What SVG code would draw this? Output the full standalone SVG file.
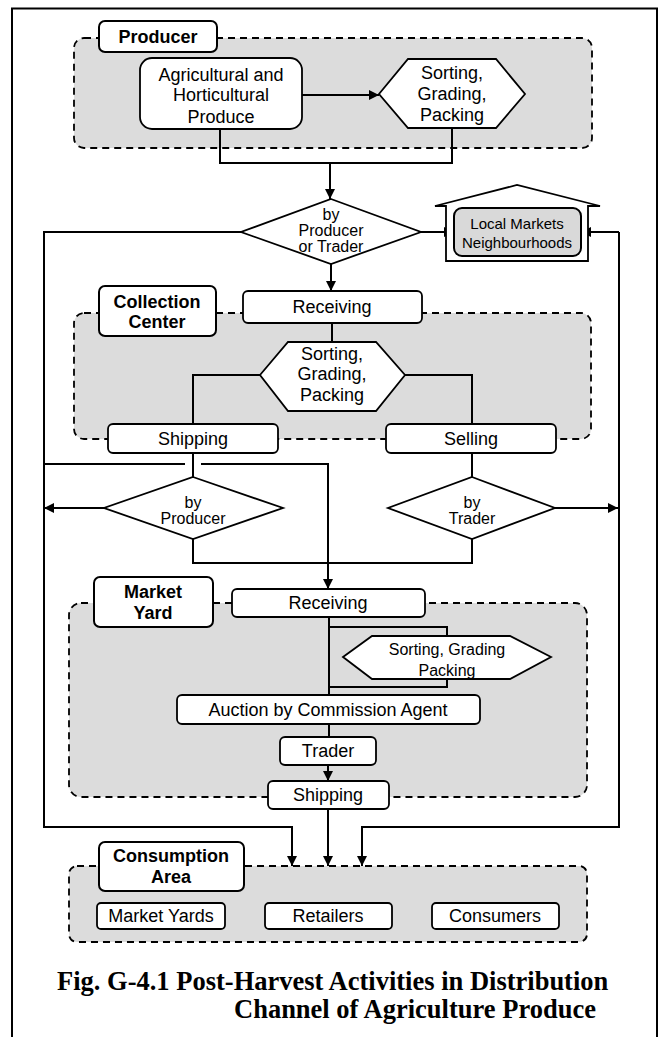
<svg xmlns="http://www.w3.org/2000/svg" width="664" height="1037" viewBox="0 0 664 1037">
  <style>
    .grp{fill:#dcdcdc;stroke:#000;stroke-width:1.8;stroke-dasharray:7 5}
    .lbl{fill:#fff;stroke:#000;stroke-width:2}
    .box{fill:#fff;stroke:#000;stroke-width:1.8}
    .w{fill:none;stroke:#000;stroke-width:2}
    .a{marker-end:url(#ah)}
    text{font-family:"Liberation Sans",Arial,sans-serif;font-size:18px;text-anchor:middle;dominant-baseline:central;fill:#000}
    .s{font-size:16px}
    .xs{font-size:15px}
    .b{font-weight:bold}
    .cap{font-family:"Liberation Serif","Times New Roman",serif;font-weight:bold;font-size:26.5px;text-anchor:start;dominant-baseline:auto}
  </style>
  <defs>
    <marker id="ah" viewBox="0 0 10 10" refX="10" refY="5" markerWidth="10" markerHeight="10" markerUnits="userSpaceOnUse" orient="auto">
      <path d="M0,0 L10,5 L0,10 z" fill="#000"/>
    </marker>
  </defs>

  <!-- page frame -->
  <rect x="0" y="0" width="664" height="1037" fill="#fff"/>
  <rect x="12" y="8.5" width="645" height="1040" fill="none" stroke="#000" stroke-width="2"/>

  <!-- stage areas -->
  <g id="areas">
    <rect class="grp" x="74" y="38" width="518" height="110" rx="10"/>
    <rect class="grp" x="74" y="313" width="517" height="126" rx="10"/>
    <rect class="grp" x="69" y="603" width="518" height="194" rx="12"/>
    <rect class="grp" x="69" y="866" width="518" height="76" rx="8"/>
  </g>

  <!-- connectors -->
  <g id="connectors">
    <path class="w a" d="M302,95 H379"/>
    <path class="w" d="M220,129 V163 H452 V128"/>
    <path class="w a" d="M330,163 V199"/>
    <path class="w a" d="M421,232 H454"/>
    <path class="w" d="M241,232 H44 V827 H292"/>
    <path class="w a" d="M292,826 V866"/>
    <path class="w a" d="M331,264 V291"/>
    <path class="w" d="M332,323 V342"/>
    <path class="w" d="M260,375 H193 V424"/>
    <path class="w" d="M405,375 H472 V424"/>
    <path class="w" d="M193,453 V477"/>
    <path class="w" d="M472,453 V477"/>
    <path class="w" d="M45,464 H185"/>
    <path class="w" d="M201,464 H328 V470"/>
    <path class="w a" d="M328,470 V589"/>
    <path class="w a" d="M104,508 H44"/>
    <path class="w a" d="M555,508 H618"/>
    <path class="w" d="M193,539 V563 H472 V539"/>
    <path class="w a" d="M619,232 H581"/>
    <path class="w" d="M619,232 V827 H362"/>
    <path class="w a" d="M362,826 V866"/>
    <path class="w" d="M329,617 V695"/>
    <path class="w" d="M329,627 H447 V687 H329" stroke-width="2.5"/>
    <path class="w" d="M329,724 V737"/>
    <path class="w a" d="M328,765 V781"/>
    <path class="w a" d="M328,809 V866"/>
  </g>

  <!-- Producer -->
  <g id="producer-label">
    <rect class="lbl" x="99" y="21" width="118" height="31" rx="6"/>
    <text class="b" x="158" y="37">Producer</text>
  </g>
  <g id="produce">
    <rect class="box" x="140" y="58" width="162" height="71" rx="12"/>
    <text x="221" y="75">Agricultural and</text>
    <text x="221" y="95">Horticultural</text>
    <text x="221" y="117">Produce</text>
  </g>
  <g id="producer-sorting">
    <polygon class="box" points="379,94 408,59 496,59 525,94 496,128 408,128"/>
    <text x="452" y="73">Sorting,</text>
    <text x="452" y="94">Grading,</text>
    <text x="452" y="115">Packing</text>
  </g>

  <!-- first decision -->
  <g id="by-producer-or-trader">
    <polygon class="box" points="331,199 421,232 331,264 241,232"/>
    <text class="s" x="331" y="214">by</text>
    <text class="s" x="331" y="230">Producer</text>
    <text class="s" x="331" y="246">or Trader</text>
  </g>
  <g id="local-markets">
    <polygon class="box" points="446,261 446,206 435,206 517,185 600,206 588,206 588,261"/>
    <rect x="454" y="208" width="127" height="48" rx="8" fill="#d9d9d9" stroke="#000" stroke-width="2"/>
    <text class="xs" x="517" y="223">Local Markets</text>
    <text class="xs" x="517" y="242">Neighbourhoods</text>
  </g>

  <!-- Collection Center -->
  <g id="collection-label">
    <rect class="lbl" x="99" y="286" width="117" height="50" rx="6"/>
    <text class="b" x="157" y="302">Collection</text>
    <text class="b" x="157" y="322">Center</text>
  </g>
  <g id="cc-receiving">
    <rect class="box" x="243" y="291" width="179" height="32" rx="5"/>
    <text x="332" y="307">Receiving</text>
  </g>
  <g id="cc-sorting">
    <polygon class="box" points="260,375 288,342 376,342 405,375 376,411 288,411"/>
    <text x="332" y="354">Sorting,</text>
    <text x="332" y="374">Grading,</text>
    <text x="332" y="395">Packing</text>
  </g>
  <g id="cc-shipping">
    <rect class="box" x="108" y="424" width="170" height="29" rx="5"/>
    <text x="193" y="439">Shipping</text>
  </g>
  <g id="cc-selling">
    <rect class="box" x="386" y="424" width="170" height="29" rx="5"/>
    <text x="471" y="439">Selling</text>
  </g>

  <!-- transport decisions -->
  <g id="by-producer">
    <polygon class="box" points="193,477 283,508 193,539 104,508"/>
    <text class="s" x="193" y="502">by</text>
    <text class="s" x="193" y="518">Producer</text>
  </g>
  <g id="by-trader">
    <polygon class="box" points="472,477 555,508 472,539 388,508"/>
    <text class="s" x="472" y="502">by</text>
    <text class="s" x="472" y="518">Trader</text>
  </g>

  <!-- Market Yard -->
  <g id="market-yard-label">
    <rect class="lbl" x="94" y="577" width="119" height="50" rx="6"/>
    <text class="b" x="153" y="592">Market</text>
    <text class="b" x="153" y="613">Yard</text>
  </g>
  <g id="my-receiving">
    <rect class="box" x="232" y="589" width="193" height="28" rx="5"/>
    <text x="328" y="603">Receiving</text>
  </g>
  <g id="my-sorting">
    <polygon class="box" points="343,657 372,636 510,636 551,657 510,679 372,679"/>
    <text class="s" x="447" y="649">Sorting, Grading</text>
    <text class="s" x="447" y="670">Packing</text>
  </g>
  <g id="auction">
    <rect class="box" x="177" y="695" width="303" height="29" rx="5"/>
    <text x="328" y="710">Auction by Commission Agent</text>
  </g>
  <g id="trader">
    <rect class="box" x="280" y="737" width="96" height="28" rx="5"/>
    <text x="328" y="751">Trader</text>
  </g>
  <g id="my-shipping">
    <rect class="box" x="268" y="781" width="121" height="28" rx="5"/>
    <text x="328" y="795">Shipping</text>
  </g>

  <!-- Consumption Area -->
  <g id="consumption-label">
    <rect class="lbl" x="99" y="842" width="145" height="49" rx="6"/>
    <text class="b" x="171" y="856">Consumption</text>
    <text class="b" x="171" y="877">Area</text>
  </g>
  <g id="market-yards">
    <rect class="box" x="97" y="903" width="128" height="26" rx="4"/>
    <text x="161" y="916">Market Yards</text>
  </g>
  <g id="retailers">
    <rect class="box" x="265" y="903" width="127" height="26" rx="4"/>
    <text x="328" y="916">Retailers</text>
  </g>
  <g id="consumers">
    <rect class="box" x="432" y="903" width="127" height="26" rx="4"/>
    <text x="495" y="916">Consumers</text>
  </g>

  <!-- caption -->
  <g id="caption">
    <text class="cap" x="57" y="990">Fig. G-4.1 Post-Harvest Activities in Distribution</text>
    <text class="cap" x="234" y="1018">Channel of Agriculture Produce</text>
  </g>
</svg>
